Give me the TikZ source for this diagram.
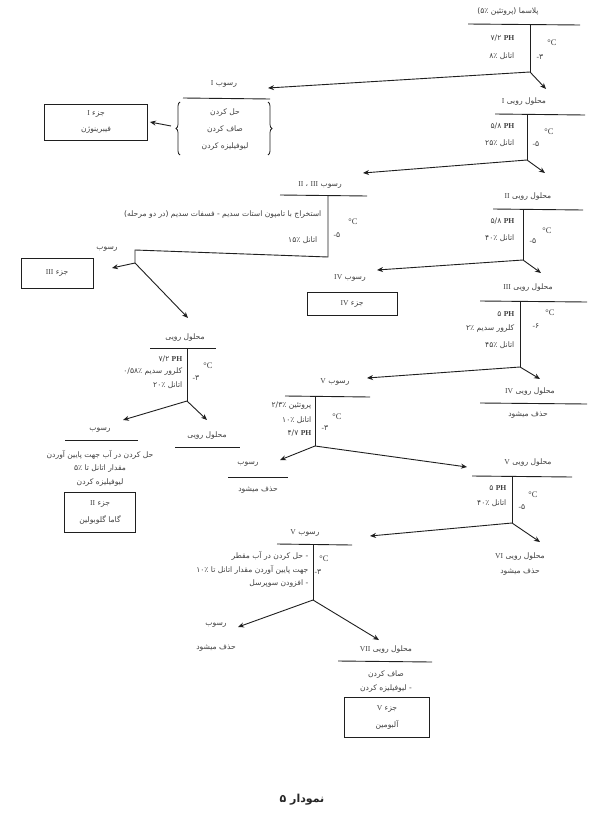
\documentclass[tikz,border=0pt]{standalone}
\usepackage{fontspec}
\setmainfont{Liberation Serif}
\newfontfamily\fa[Script=Arabic]{DejaVu Sans}
\newfontfamily\lat{Liberation Serif}
\TeXXeTstate=1
\usetikzlibrary{arrows.meta,decorations.pathreplacing}
\newcommand\RL[1]{\beginR#1\endR}
\newcommand\LT[1]{{\lat\bfseries #1}}
\newcommand\RN[1]{{\lat #1}}
\newcommand\lab[2]{\beginR#1 \RN{#2}\endR}
\newcommand\tmp[1]{{\lat -}#1}
\definecolor{txt}{gray}{0.25}
\definecolor{lin}{gray}{0.12}
\tikzset{
  fa/.style={font=\fa\fontsize{7.6}{9}\selectfont, text=txt, inner sep=0.5pt},
  lt/.style={font=\lat\fontsize{8.5}{9}\selectfont, text=txt, inner sep=0.5pt},
  ln/.style={draw=lin, line width=0.9pt},
  arr/.style={draw=lin, line width=0.9pt, -{Stealth[length=6pt,width=5pt]}},
  bx/.style={draw=lin, line width=0.9pt, inner sep=0pt},
  brc/.style={draw=lin, line width=0.8pt, decorate, decoration={brace, amplitude=4pt}},
}
\begin{document}
\begin{tikzpicture}[x=1pt,y=-1pt]
\fill[white] (0,0) rectangle (604,816);
\useasboundingbox (0,0) rectangle (604,816);

% ---------- plasma
\node[fa] (plasma) at (508,12) {\RL{پلاسما (پروتئین ۵٪)}};
\coordinate (L0a) at (468,24); \coordinate (L0b) at (580,25);
\coordinate (J0t) at (530,24.5); \coordinate (J0) at (530,72);
\draw[ln] (L0a) -- (L0b);
\draw[ln] (J0t) -- (J0);
\node[fa,anchor=east] (ph0) at (515,38) {\RL{\LT{PH} ۷/۲}};
\node[fa,anchor=east] (et0) at (515,56) {\RL{اتانل ۸٪}};
\node[lt] (dg0) at (552,43) {°C};
\node[fa] (tp0) at (540,57) {\tmp{۳}};
\coordinate (A0s) at (546,89);
\coordinate (A0w) at (268,88);
\draw[arr] (J0) -- (A0s);
\draw[arr] (J0) -- (A0w);

% ---------- precipitate I
\node[fa] (rI) at (224,84) {\lab{رسوب}{I}};
\coordinate (LIa) at (183,98); \coordinate (LIb) at (270,99);
\draw[ln] (LIa) -- (LIb);
\node[fa] (rI1) at (225,113) {\RL{حل کردن}};
\node[fa] (rI2) at (225,130) {\RL{صاف کردن}};
\node[fa] (rI3) at (225,147) {\RL{لیوفیلیزه کردن}};
\coordinate (BLb) at (180,155); \coordinate (BLt) at (180,102);
\coordinate (BRt) at (268,102); \coordinate (BRb) at (268,155);
\draw[brc] (BLb) -- (BLt);
\draw[brc] (BRt) -- (BRb);
\coordinate (BLtip) at (171,126);
\node[bx, minimum width=103pt, minimum height=36pt] (fI) at (96,122) {};
\draw[arr] (BLtip) -- ([xshift=2pt]fI.east);
\node[fa] (fIa) at (96,114) {\lab{جزء}{I}};
\node[fa] (fIb) at (96,130) {\RL{فیبرینوژن}};

% ---------- supernatant I
\node[fa] (sI) at (524,102) {\lab{محلول رویی}{I}};
\coordinate (L1a) at (495,114); \coordinate (L1b) at (585,115);
\coordinate (J1t) at (527,114.5); \coordinate (J1) at (527,160);
\draw[ln] (L1a) -- (L1b);
\draw[ln] (J1t) -- (J1);
\node[fa,anchor=east] (ph1) at (515,126) {\RL{\LT{PH} ۵/۸}};
\node[fa,anchor=east] (et1) at (515,143) {\RL{اتانل ۲۵٪}};
\node[lt] (dg1) at (549,132) {°C};
\node[fa] (tp1) at (536,144) {\tmp{۵}};
\coordinate (A1s) at (545,173); \coordinate (A1w) at (363,173);
\draw[arr] (J1) -- (A1s);
\draw[arr] (J1) -- (A1w);

% ---------- supernatant II
\node[fa] (sII) at (528,197) {\lab{محلول رویی}{II}};
\coordinate (L2a) at (493,209); \coordinate (L2b) at (583,210);
\coordinate (J2t) at (523,209.5); \coordinate (J2) at (523,260);
\draw[ln] (L2a) -- (L2b);
\draw[ln] (J2t) -- (J2);
\node[fa,anchor=east] (ph2) at (515,221) {\RL{\LT{PH} ۵/۸}};
\node[fa,anchor=east] (et2) at (515,238) {\RL{اتانل ۴۰٪}};
\node[lt] (dg2) at (547,231) {°C};
\node[fa] (tp2) at (533,241) {\tmp{۵}};
\coordinate (A2s) at (541,273); \coordinate (A2w) at (377,270);
\draw[arr] (J2) -- (A2s);
\draw[arr] (J2) -- (A2w);

% ---------- precipitate II + III
\node[fa] (rII) at (320,185) {\RL{رسوب \RN{III} ، \RN{II}}};
\coordinate (L3a) at (280,195); \coordinate (L3b) at (367,196);
\draw[ln] (L3a) -- (L3b);
\coordinate (J3t) at (328,195.5); \coordinate (J3) at (328,257);
\coordinate (J3L) at (135,250); \coordinate (J3d) at (135,263);
\draw[ln] (J3t) -- (J3) -- (J3L) -- (J3d);
\node[fa,anchor=east] (ex1) at (322,215) {\RL{استخراج با تامپون استات سدیم - فسفات سدیم (در دو مرحله)}};
\node[fa,anchor=east] (ex2) at (318,240) {\RL{اتانل ۱۵٪}};
\node[lt] (dg3) at (353,222) {°C};
\node[fa] (tp3) at (337,235) {\tmp{۵}};
\node[fa] (rIIIp) at (107,249) {\RL{رسوب}};
\node[bx, minimum width=72pt, minimum height=30pt] (fIII) at (57,273) {};
\node[fa] (fIIIa) at (57,273) {\lab{جزء}{III}};
\coordinate (A3w) at (112,268); \coordinate (A3d) at (188,318);
\draw[arr] (J3d) -- (A3w);
\draw[arr] (J3d) -- (A3d);

% ---------- left supernatant
\node[fa] (sL) at (185,338) {\RL{محلول رویی}};
\coordinate (L4a) at (150,348); \coordinate (L4b) at (216,348);
\coordinate (J4t) at (187,348); \coordinate (J4) at (187,401);
\draw[ln] (L4a) -- (L4b);
\draw[ln] (J4t) -- (J4);
\node[fa,anchor=east] (ph4) at (183,359) {\RL{\LT{PH} ۷/۲}};
\node[fa,anchor=east] (na4) at (183,372) {\RL{کلرور سدیم ۰/۵۸٪}};
\node[fa,anchor=east] (et4) at (183,385) {\RL{اتانل ۲۰٪}};
\node[lt] (dg4) at (208,366) {°C};
\node[fa] (tp4) at (196,378) {\tmp{۳}};
\coordinate (A4w) at (123,420); \coordinate (A4e) at (207,420);
\draw[arr] (J4) -- (A4w);
\draw[arr] (J4) -- (A4e);

\node[fa] (rL) at (100,430) {\RL{رسوب}};
\coordinate (L5a) at (65,440); \coordinate (L5b) at (138,440);
\draw[ln] (L5a) -- (L5b);
\node[fa] (rL1) at (100,455) {\RL{حل کردن در آب جهت پایین آوردن}};
\node[fa] (rL2) at (100,469) {\RL{مقدار اتانل تا ۵٪}};
\node[fa] (rL3) at (100,483) {\RL{لیوفیلیزه کردن}};
\node[bx, minimum width=71pt, minimum height=40pt] (fII) at (100,512) {};
\node[fa] (fIIa) at (100,504) {\lab{جزء}{II}};
\node[fa] (fIIb) at (100,520) {\RL{گاما گلوبولین}};

\node[fa] (sL2) at (207,436) {\RL{محلول رویی}};
\coordinate (L6a) at (175,447); \coordinate (L6b) at (240,447);
\draw[ln] (L6a) -- (L6b);

% ---------- precipitate IV
\node[fa] (rIV) at (350,278) {\lab{رسوب}{IV}};
\node[bx, minimum width=90pt, minimum height=23pt] (fIV) at (352,304) {};
\node[fa] (fIVa) at (352,304) {\lab{جزء}{IV}};

% ---------- supernatant III
\node[fa] (sIII) at (528,288) {\lab{محلول رویی}{III}};
\coordinate (L7a) at (480,301); \coordinate (L7b) at (587,302);
\coordinate (J7t) at (520,301.5); \coordinate (J7) at (520,367);
\draw[ln] (L7a) -- (L7b);
\draw[ln] (J7t) -- (J7);
\node[fa,anchor=east] (ph7) at (515,314) {\RL{\LT{PH} ۵}};
\node[fa,anchor=east] (na7) at (515,329) {\RL{کلرور سدیم ۲٪}};
\node[fa,anchor=east] (et7) at (515,345) {\RL{اتانل ۴۵٪}};
\node[lt] (dg7) at (550,313) {°C};
\node[fa] (tp7) at (536,326) {\tmp{۶}};
\coordinate (A7s) at (540,379); \coordinate (A7w) at (367,378);
\draw[arr] (J7) -- (A7s);
\draw[arr] (J7) -- (A7w);

% ---------- supernatant IV
\node[fa] (sIV) at (530,392) {\lab{محلول رویی}{IV}};
\coordinate (L8a) at (480,403); \coordinate (L8b) at (587,404);
\draw[ln] (L8a) -- (L8b);
\node[fa] (sIVd) at (528,415) {\RL{حذف میشود}};

% ---------- precipitate V (first)
\node[fa] (rV) at (335,382) {\lab{رسوب}{V}};
\coordinate (L9a) at (285,396); \coordinate (L9b) at (370,397);
\coordinate (J9t) at (315,396.5); \coordinate (J9) at (315,446);
\draw[ln] (L9a) -- (L9b);
\draw[ln] (J9t) -- (J9);
\node[fa,anchor=east] (pr9) at (312,406) {\RL{پروتئین ۲/۳٪}};
\node[fa,anchor=east] (et9) at (312,420) {\RL{اتانل ۱۰٪}};
\node[fa,anchor=east] (ph9) at (312,433) {\RL{\LT{PH} ۴/۷}};
\node[lt] (dg9) at (337,417) {°C};
\node[fa] (tp9) at (325,428) {\tmp{۳}};
\coordinate (A9w) at (280,460); \coordinate (A9e) at (467,467);
\draw[arr] (J9) -- (A9w);
\draw[arr] (J9) -- (A9e);

\node[fa] (rVa) at (248,464) {\RL{رسوب}};
\coordinate (L10a) at (228,477); \coordinate (L10b) at (288,477);
\draw[ln] (L10a) -- (L10b);
\node[fa] (rVad) at (258,490) {\RL{حذف میشود}};

% ---------- supernatant V
\node[fa] (sV) at (528,463) {\lab{محلول رویی}{V}};
\coordinate (L11a) at (472,476); \coordinate (L11b) at (572,477);
\coordinate (J11t) at (512,476.5); \coordinate (J11) at (512,523);
\draw[ln] (L11a) -- (L11b);
\draw[ln] (J11t) -- (J11);
\node[fa,anchor=east] (ph11) at (507,488) {\RL{\LT{PH} ۵}};
\node[fa,anchor=east] (et11) at (507,503) {\RL{اتانل ۴۰٪}};
\node[lt] (dg11) at (533,495) {°C};
\node[fa] (tp11) at (522,507) {\tmp{۵}};
\coordinate (A11w) at (370,536); \coordinate (A11e) at (540,542);
\draw[arr] (J11) -- (A11w);
\draw[arr] (J11) -- (A11e);

\node[fa] (sVI) at (520,557) {\lab{محلول رویی}{VI}};
\node[fa] (sVId) at (520,572) {\RL{حذف میشود}};

% ---------- precipitate V (second)
\node[fa] (rV2) at (305,533) {\lab{رسوب}{V}};
\coordinate (L12a) at (277,544); \coordinate (L12b) at (352,545);
\coordinate (J12t) at (313,544.5); \coordinate (J12) at (313,600);
\draw[ln] (L12a) -- (L12b);
\draw[ln] (J12t) -- (J12);
\node[fa,anchor=east] (w1) at (309,556) {\RL{- حل کردن در آب مقطر}};
\node[fa,anchor=east] (w2) at (309,570) {\RL{جهت پایین آوردن مقدار اتانل تا ۱۰٪}};
\node[fa,anchor=east] (w3) at (309,584) {\RL{- افزودن سوپرسل}};
\node[lt] (dg12) at (324,559) {°C};
\node[fa] (tp12) at (318,572) {\tmp{۳}};
\coordinate (A12w) at (238,627); \coordinate (A12e) at (379,640);
\draw[arr] (J12) -- (A12w);
\draw[arr] (J12) -- (A12e);

\node[fa] (rV3) at (216,625) {\RL{رسوب}};
\node[fa] (rV3d) at (216,648) {\RL{حذف میشود}};

% ---------- supernatant VII
\node[fa] (sVII) at (386,650) {\lab{محلول رویی}{VII}};
\coordinate (L13a) at (338,661); \coordinate (L13b) at (432,662);
\draw[ln] (L13a) -- (L13b);
\node[fa] (v1) at (386,675) {\RL{صاف کردن}};
\node[fa] (v2) at (386,689) {\RL{- لیوفیلیزه کردن}};
\node[bx, minimum width=85pt, minimum height=40pt] (fV) at (387,717) {};
\node[fa] (fVa) at (387,709) {\lab{جزء}{V}};
\node[fa] (fVb) at (387,725) {\RL{آلبومین}};

% ---------- caption
\node[font=\fa\bfseries\fontsize{11}{13}\selectfont, text=black!85] (cap) at (302,800) {\RL{نمودار ۵}};
\end{tikzpicture}
\end{document}
